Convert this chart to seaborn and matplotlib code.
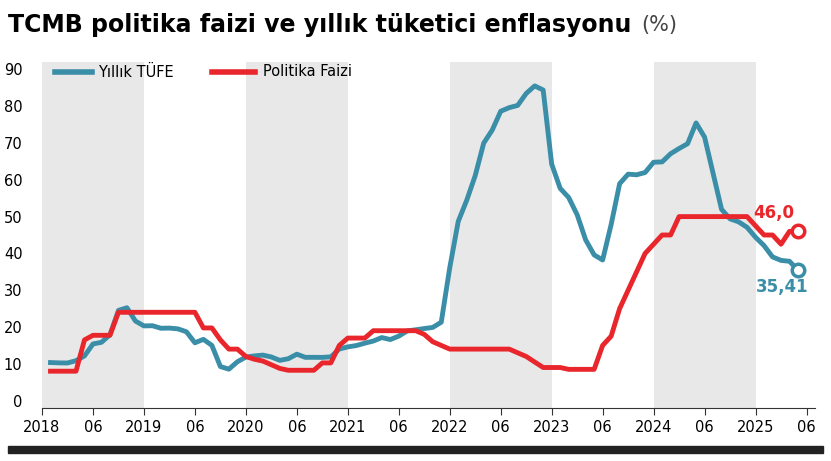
import matplotlib
matplotlib.use("Agg")
import matplotlib.pyplot as plt
import seaborn as sns
import numpy as np
import pandas as pd

tufe = [10.35,10.26,10.23,10.85,12.15,15.39,15.85,17.90,24.52,25.24,21.62,20.30,
        20.35,19.67,19.71,19.50,18.71,15.72,16.65,15.01,9.26,8.55,10.56,11.84,
        12.15,12.37,11.86,10.94,11.39,12.62,11.76,11.77,11.75,11.89,14.03,14.60,
        14.97,15.61,16.19,17.14,16.59,17.53,18.95,19.25,19.58,19.89,21.31,36.08,
        48.69,54.44,61.14,69.97,73.50,78.62,79.60,80.21,83.45,85.51,84.39,64.27,
        57.68,55.18,50.51,43.68,39.59,38.21,47.83,58.94,61.53,61.36,61.98,64.77,
        64.86,67.07,68.50,69.80,75.45,71.60,61.78,51.97,49.38,48.58,47.09,44.38,
        42.12,39.05,38.10,37.86,35.41]
faiz = [8,8,8,8,16.5,17.75,17.75,17.75,24,24,24,24,
        24,24,24,24,24,24,19.75,19.75,16.5,14,14,12,
        11.25,10.75,9.75,8.75,8.25,8.25,8.25,8.25,10.25,10.25,15,17,
        17,17,19,19,19,19,19,19,18,16,15,14,
        14,14,14,14,14,14,14,13,12,10.5,9,9,
        9,8.5,8.5,8.5,8.5,15,17.5,25,30,35,40,42.5,
        45,45,50,50,50,50,50,50,50,50,50,47.5,
        45,45,42.5,46,46]
years = ["2018","2019","2020","2021","2022","2023","2024","2025"]

x = np.arange(1, len(tufe)+1)
df = pd.DataFrame({"x": np.concatenate([x, x]),
                   "v": tufe + faiz,
                   "s": ["Yıllık TÜFE"]*len(tufe) + ["Politika Faizi"]*len(faiz)})
blue, red = "#3a8ea8", "#e8262b"

fig = plt.figure(figsize=(8.31, 4.61), dpi=100)
ax = fig.add_axes([42/831, 1-408/461, (815-42)/831, (408-62)/461])
for i in range(0, 8, 2):
    ax.axvspan(i*12, i*12+12, color="#e8e8e8", lw=0, zorder=0)
sns.lineplot(data=df, x="x", y="v", hue="s", palette=[blue, red], lw=3.5,
             ax=ax, legend=False, zorder=3)
ax.plot(x[-1], tufe[-1], "o", ms=9, mfc="white", mec=blue, mew=2.5, zorder=4)
ax.plot(x[-1], faiz[-1], "o", ms=9, mfc="white", mec=red, mew=2.5, zorder=4)
ax.text(x[-1]+1.2, tufe[-1]-2, f"{tufe[-1]:.2f}".replace(".", ","), color=blue,
        fontsize=12, fontweight="bold", ha="right", va="top")
ax.text(x[-1]-0.5, faiz[-1]+2.5, f"{faiz[-1]:.1f}".replace(".", ","), color=red,
        fontsize=12, fontweight="bold", ha="right", va="bottom")
ax.set_xlim(0, 91); ax.set_ylim(-2, 92)
ticks = []; labels = []
for i, y in enumerate(years):
    ticks += [i*12, i*12+6]; labels += [y, "06"]
ax.set_xticks(ticks); ax.set_xticklabels(labels, fontsize=10.5)
ax.set_yticks(range(0, 91, 10))
ax.set_yticklabels([str(v) for v in range(0, 91, 10)], fontsize=10.5)
ax.tick_params(axis="y", length=0, pad=14)
ax.tick_params(axis="x", length=5, color="#333")
for sp in ["top", "right", "left"]:
    ax.spines[sp].set_visible(False)
ax.spines["bottom"].set_color("#333")
ax.set_xlabel(""); ax.set_ylabel("")
fig.text(0.01, 0.945, "TCMB politika faizi ve yıllık tüketici enflasyonu", fontsize=17,
         fontweight="bold", va="center")
fig.text(0.772, 0.945, "(%)", fontsize=15, va="center", color="#444")
fig.lines.append(plt.Line2D([55/831, 92/831], [1-72/461]*2, color=blue, lw=4, transform=fig.transFigure))
fig.text(98/831, 1-72/461, "Yıllık TÜFE", fontsize=10.5, va="center")
fig.lines.append(plt.Line2D([212/831, 255/831], [1-72/461]*2, color=red, lw=4, transform=fig.transFigure))
fig.text(263/831, 1-72/461, "Politika Faizi", fontsize=10.5, va="center")
fig.patches.append(plt.Rectangle((8/831, 1-453/461), 815/831, 7/461, color="#222", transform=fig.transFigure))
fig.savefig("out.png", dpi=100)
